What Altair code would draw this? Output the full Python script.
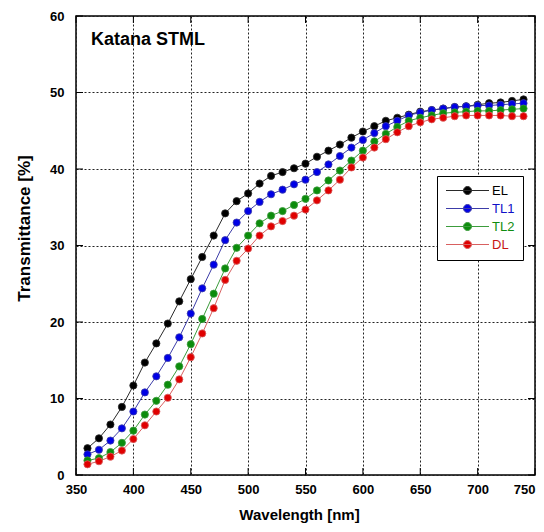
import altair as alt
import pandas as pd

# ---------------- data ----------------
wavelength = [360, 370, 380, 390, 400, 410, 420, 430, 440, 450, 460, 470, 480,
              490, 500, 510, 520, 530, 540, 550, 560, 570, 580, 590, 600, 610,
              620, 630, 640, 650, 660, 670, 680, 690, 700, 710, 720, 730, 740]
el = [3.5, 4.8, 6.6, 8.9, 11.7, 14.7, 17.2, 19.8, 22.7, 25.6, 28.5, 31.3, 34.2,
      35.8, 36.8, 38.1, 39.1, 39.6, 40.1, 40.7, 41.6, 42.4, 43.2, 44.1, 44.9, 45.6,
      46.3, 46.7, 47.1, 47.5, 47.7, 47.9, 48.1, 48.2, 48.4, 48.6, 48.7, 48.9, 49.1]
tl1 = [2.7, 3.3, 4.5, 6.1, 8.3, 10.8, 12.9, 15.3, 18.0, 21.1, 24.4, 27.5, 30.7,
       33.0, 34.5, 35.7, 36.7, 37.3, 38.0, 38.6, 39.6, 40.6, 41.7, 42.8, 43.8, 44.7,
       45.6, 46.3, 47.0, 47.4, 47.7, 47.9, 48.1, 48.2, 48.3, 48.3, 48.4, 48.5, 48.6]
tl2 = [1.9, 2.2, 3.0, 4.2, 5.8, 7.9, 9.7, 11.8, 14.2, 17.1, 20.4, 23.7, 27.0,
       29.7, 31.3, 32.9, 33.9, 34.5, 35.3, 36.1, 37.2, 38.5, 39.8, 41.1, 42.4, 43.6,
       44.6, 45.5, 46.3, 46.7, 47.0, 47.3, 47.4, 47.5, 47.6, 47.6, 47.7, 47.8, 47.9]
dl = [1.4, 1.8, 2.4, 3.2, 4.7, 6.5, 8.3, 10.1, 12.5, 15.4, 18.5, 21.8, 25.5,
      28.0, 29.6, 31.3, 32.5, 33.2, 33.9, 34.7, 35.9, 37.2, 38.6, 40.2, 41.5, 42.8,
      43.9, 44.8, 45.6, 46.1, 46.5, 46.7, 46.9, 47.0, 47.0, 47.0, 47.0, 46.9, 46.9]

series_names = ["EL", "TL1", "TL2", "DL"]
point_colors = ["#000000", "#0000e6", "#0c8c0c", "#e00000"]
line_colors = ["#2a2a2a", "#3c3ca8", "#3c9c3c", "#d86060"]
label_colors = ["#000000", "#1010c8", "#108c10", "#c81414"]

x_ticks = [350, 400, 450, 500, 550, 600, 650, 700, 750]
y_ticks = [0, 10, 20, 30, 40, 50, 60]

title_text = "Katana STML"
x_title = "Wavelength [nm]"
y_title = "Transmittance [%]"

# ---------------- table ----------------
rows = []
for name, vals in zip(series_names, [el, tl1, tl2, dl]):
    for w, v in zip(wavelength, vals):
        rows.append({"wavelength": w, "T": v, "series": name})
df = pd.DataFrame(rows)

W = H = 459
TICK = 7
FONT = "Liberation Sans"

xs = alt.Scale(domain=[350, 750], nice=False, zero=False)
ys = alt.Scale(domain=[0, 60], nice=False, zero=False)
fill_scale = alt.Scale(domain=series_names, range=point_colors)
stroke_scale = alt.Scale(domain=series_names, range=line_colors)


def js_list(lst):
    return "[" + ",".join(f"'{c}'" for c in lst) + "]"


label_expr = (f"{js_list(label_colors)}"
              f"[indexof({js_list(series_names)}, datum.value)]")

x_axis = alt.Axis(title=x_title, values=x_ticks, labelFlush=False, labelOverlap=False,
                  labelAlign={"condition": {"test": f"datum.value == {x_ticks[-1]}",
                                            "value": "right"},
                              "value": "center"},
                  labelPadding=8, titlePadding=11, titleFontSize=15, titleX=223)
y_axis = alt.Axis(title=y_title, values=y_ticks, labelFlush=False, labelOverlap=False,
                  labelPadding=12, titlePadding=16, titleFontSize=17, titleY=212)

legend_path = "M-5.375,0L5.375,0M-1,0A1,1,0,1,1,1,0A1,1,0,1,1,-1,0Z"
legend = alt.Legend(
    title=None, orient="none", legendX=361, legendY=160,
    symbolType=legend_path, symbolSize=64, symbolStrokeWidth=1,
    symbolOpacity=1,
    symbolOffset=16, labelOffset=18, padding=8, rowPadding=4,
    strokeColor="black", fillColor="white",
    labelFontSize=13, labelFont=FONT,
    labelColor=alt.ExprRef(label_expr),
)

base = alt.Chart(df)

lines = base.mark_line(strokeWidth=1).encode(
    x=alt.X("wavelength:Q", scale=xs, axis=x_axis),
    y=alt.Y("T:Q", scale=ys, axis=y_axis),
    stroke=alt.Stroke("series:N", scale=stroke_scale, legend=legend),
)

points = base.mark_point(size=52, opacity=1, filled=True, strokeWidth=0.8).encode(
    x=alt.X("wavelength:Q", scale=xs, axis=x_axis),
    y=alt.Y("T:Q", scale=ys, axis=y_axis),
    fill=alt.Fill("series:N", scale=fill_scale, legend=legend),
    stroke=alt.Stroke("series:N", scale=stroke_scale, legend=legend),
    shape=alt.value("circle"),
)

xt = pd.DataFrame({"wavelength": x_ticks})
yt = pd.DataFrame({"T": y_ticks})

tick_bottom = alt.Chart(xt).mark_rule(color="black", strokeWidth=1).encode(
    x=alt.X("wavelength:Q", scale=xs, axis=x_axis), y=alt.value(H), y2=alt.value(H - TICK))
tick_top = alt.Chart(xt).mark_rule(color="black", strokeWidth=1).encode(
    x=alt.X("wavelength:Q", scale=xs, axis=x_axis), y=alt.value(0), y2=alt.value(TICK))
tick_left = alt.Chart(yt).mark_rule(color="black", strokeWidth=1).encode(
    y=alt.Y("T:Q", scale=ys, axis=y_axis), x=alt.value(0), x2=alt.value(TICK))
tick_right = alt.Chart(yt).mark_rule(color="black", strokeWidth=1).encode(
    y=alt.Y("T:Q", scale=ys, axis=y_axis), x=alt.value(W), x2=alt.value(W - TICK))

title = alt.Chart(pd.DataFrame({"t": [title_text]})).mark_text(
    align="left", baseline="alphabetic", fontSize=18, fontWeight="bold",
    font=FONT, color="black").encode(
    x=alt.value(15), y=alt.value(29), text="t:N")

chart = alt.layer(
    lines, points, tick_bottom, tick_top, tick_left, tick_right, title
).properties(
    width=W, height=H,
    autosize=alt.AutoSizeParams(type="none"),
    padding={"left": 68, "top": 8, "right": 1, "bottom": 49},
    background="white",
).configure_view(
    stroke="black", strokeWidth=1.5
).configure_axis(
    domain=False, ticks=False, grid=True, gridDash=[2, 2], gridColor="#222222",
    gridWidth=1, gridOpacity=1,
    labelFont=FONT, labelFontSize=13, labelFontWeight="bold", labelColor="black",
    titleFont=FONT, titleFontWeight="bold", titleColor="black",
)

chart.save("out.html", embed_options={"renderer": "svg", "actions": False})
